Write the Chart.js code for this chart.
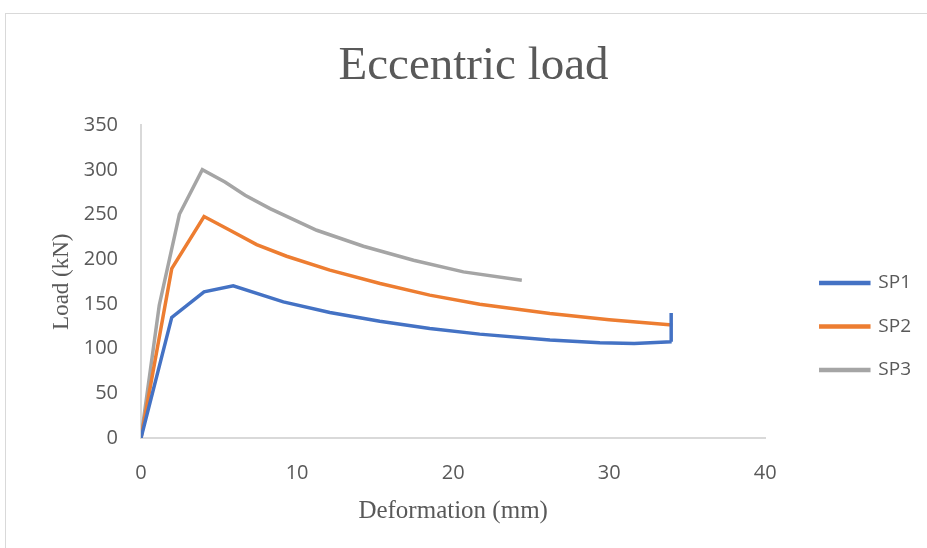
<!DOCTYPE html>
<html>
<head>
<meta charset="utf-8">
<script src="https://cdn.jsdelivr.net/npm/chart.js@4.4.0/dist/chart.umd.min.js"></script>
<style>
  body { margin: 0; background: #fff; overflow: hidden; }
  #frame { position: absolute; left: 5px; top: 13px; width: 1000px; height: 600px; border: 1px solid #d9d9d9; }
  #wrap { position: absolute; left: 0; top: 0; width: 927px; height: 548px; }
</style>
</head>
<body>
<div id="frame"></div>
<div id="wrap"><canvas id="mycanvas" width="927" height="548"></canvas></div>
<script>
// deformation (mm) / load (kN)
var sp1X = [0, 1.97, 4.04, 5.91, 9.12, 12.1, 15.3, 18.5, 21.7, 26.2, 29.4, 31.6, 34.0, 33.97];
var sp1Y = [0, 135, 163.6, 170.3, 152.4, 140.5, 130.8, 122.6, 116.3, 109.6, 106.6, 105.9, 107.7, 140];

var sp2X = [0, 1.97, 4.04, 5.7, 7.41, 9.33, 12.1, 15.32, 18.5, 21.7, 26.2, 30.0, 34.04];
var sp2Y = [0, 189.7, 248, 232.6, 216.6, 203.5, 187.9, 173, 160, 149.8, 139.4, 132.5, 126.4];

var sp3X = [0, 1.17, 2.46, 3.93, 5.38, 6.67, 8.27, 11.26, 14.25, 17.46, 20.66, 24.4];
var sp3Y = [0, 148.7, 250.5, 300.4, 286.6, 271.7, 256.8, 232.6, 214.7, 199, 186, 176.7];

var seriesNames = ['SP1', 'SP2', 'SP3'];
var seriesColors = ['#4472C4', '#ED7D31', '#A5A5A5'];

function toPoints(xs, ys) {
    var pts = [];
    for (var i = 0; i < xs.length; i++) {
        pts.push({x: xs[i], y: ys[i]});
    }
    return pts;
}

var allX = [sp1X, sp2X, sp3X];
var allY = [sp1Y, sp2Y, sp3Y];
var datasets = [];
for (var s = 0; s < 3; s++) {
    datasets.push({
        label: seriesNames[s],
        data: toPoints(allX[s], allY[s]),
        borderColor: seriesColors[s],
        backgroundColor: seriesColors[s],
        borderWidth: 3.5,
        pointRadius: 0,
        tension: 0,
        showLine: true
    });
}

var tickFont = {family: 'Open Sans', size: 20};
var grey = '#595959';

var ctx = document.getElementById('mycanvas');
var chart = new Chart(ctx, {
    type: 'scatter',
    data: {datasets: datasets},
    options: {
        responsive: false,
        animation: false,
        layout: {padding: {left: 26, right: 6, bottom: 18, top: 0}},
        plugins: {
            title: {
                display: true,
                text: 'Eccentric load',
                color: grey,
                font: {family: 'Liberation Serif', size: 47, weight: 'normal'},
                padding: {top: 38, bottom: 31}
            },
            legend: {
                position: 'right',
                // empty legend title only pushes the entries down
                title: {display: true, text: '', font: {size: 10}, padding: {top: 111, bottom: 0}},
                labels: {
                    boxWidth: 48,
                    boxHeight: 1,
                    padding: 24.5,
                    color: grey,
                    font: {family: 'Open Sans', size: 19}
                }
            },
            tooltip: {enabled: false}
        },
        scales: {
            x: {
                type: 'linear',
                min: 0,
                max: 40,
                ticks: {stepSize: 10, color: grey, font: tickFont, padding: 23},
                grid: {display: false, drawTicks: false},
                border: {color: '#d9d9d9', width: 2},
                title: {
                    display: true,
                    text: 'Deformation (mm)',
                    color: grey,
                    font: {family: 'Liberation Serif', size: 25},
                    padding: {top: 8, bottom: 4}
                },
                afterFit: function(scale) { scale.height = 92; }
            },
            y: {
                min: 0,
                max: 350,
                ticks: {stepSize: 50, color: grey, font: tickFont, padding: 23},
                grid: {display: false, drawTicks: false},
                border: {color: '#d9d9d9', width: 2},
                title: {
                    display: true,
                    text: 'Load (kN)',
                    color: grey,
                    font: {family: 'Liberation Serif', size: 23},
                    padding: {top: 22, bottom: 10}
                },
                afterFit: function(scale) { scale.width = 115; }
            },
            gap: {
                position: 'right',
                display: true,
                min: 0,
                max: 1,
                ticks: {display: false},
                grid: {display: false, drawTicks: false},
                border: {display: false},
                afterFit: function(scale) { scale.width = 31; }
            }
        }
    }
});
</script>
</body>
</html>
